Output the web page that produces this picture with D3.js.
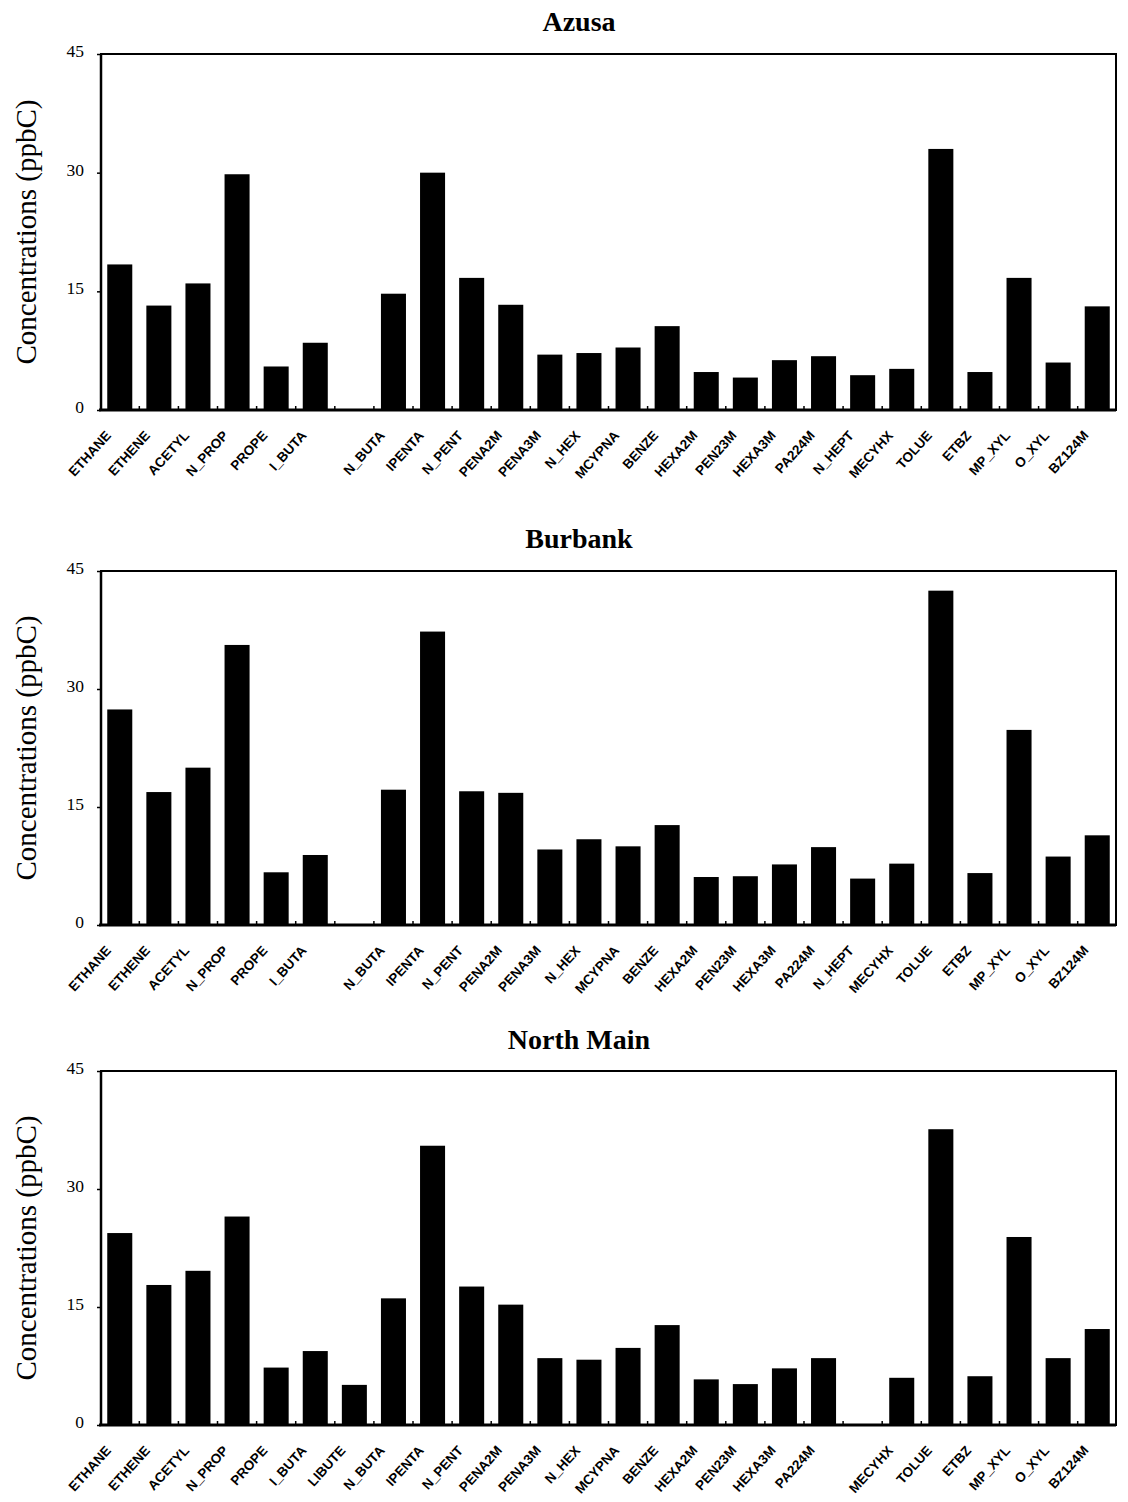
<!DOCTYPE html>
<html>
<head>
<meta charset="utf-8">
<script src="https://cdn.jsdelivr.net/npm/d3@7"></script>
<style>
  html, body { margin: 0; padding: 0; background: #fff; }
  svg { display: block; }
</style>
</head>
<body>
<svg id="chart" width="1128" height="1502"></svg>
<script>
// ---- data ----
const categories = ["ETHANE","ETHENE","ACETYL","N_PROP","PROPE","I_BUTA","LIBUTE","N_BUTA","IPENTA","N_PENT",
  "PENA2M","PENA3M","N_HEX","MCYPNA","BENZE","HEXA2M","PEN23M","HEXA3M","PA224M","N_HEPT",
  "MECYHX","TOLUE","ETBZ","MP_XYL","O_XYL","BZ124M"];
const sites = ["Azusa", "Burbank", "North Main"];
const azusa = [18.4, 13.2, 16.0, 29.8, 5.5, 8.5, null, 14.7, 30.0, 16.7, 13.3, 7.0, 7.2, 7.9, 10.6,
  4.8, 4.1, 6.3, 6.8, 4.4, 5.2, 33.0, 4.8, 16.7, 6.0, 13.1];
const burbank = [27.4, 16.9, 20.0, 35.6, 6.7, 8.9, null, 17.2, 37.3, 17.0, 16.8, 9.6, 10.9, 10.0, 12.7,
  6.1, 6.2, 7.7, 9.9, 5.9, 7.8, 42.5, 6.6, 24.8, 8.7, 11.4];
const northMain = [24.4, 17.8, 19.6, 26.5, 7.3, 9.4, 5.1, 16.1, 35.5, 17.6, 15.3, 8.5, 8.3, 9.8, 12.7,
  5.8, 5.2, 7.2, 8.5, null, 6.0, 37.6, 6.2, 23.9, 8.5, 12.2];
const yTicks = [0, 15, 30, 45];
const yLabel = "Concentrations (ppbC)";

const seriesList = [azusa, burbank, northMain];

// ---- layout ----
const svg = d3.select("#chart");
const left = 101, right = 1116;
const panels = [
  { top: 54, bottom: 410, titleY: 31 },
  { top: 571, bottom: 925, titleY: 548 },
  { top: 1071, bottom: 1425, titleY: 1049 }
];

const x = d3.scaleBand().domain(categories).range([left, right])
  .paddingInner(0.36).paddingOuter(0.16);

panels.forEach((p, i) => {
  const vals = seriesList[i];
  const y = d3.scaleLinear().domain([0, 45]).range([p.bottom, p.top]);
  const g = svg.append("g");

  // title
  g.append("text")
    .attr("x", 579).attr("y", p.titleY)
    .attr("text-anchor", "middle")
    .attr("font-family", "Liberation Serif, Times New Roman, serif")
    .attr("font-weight", "bold")
    .attr("font-size", 28)
    .text(sites[i]);

  // y label
  g.append("text")
    .attr("transform", `translate(36,${(p.top + p.bottom) / 2}) rotate(-90)`)
    .attr("text-anchor", "middle")
    .attr("font-family", "Liberation Serif, Times New Roman, serif")
    .attr("font-size", 29)
    .text(yLabel);

  // bars
  g.selectAll("rect.bar")
    .data(categories.map((c, k) => ({ c, v: vals[k] })).filter(d => d.v != null))
    .enter().append("rect")
    .attr("class", "bar")
    .attr("x", d => x(d.c))
    .attr("width", x.bandwidth())
    .attr("y", d => y(d.v))
    .attr("height", d => y(0) - y(d.v))
    .attr("fill", "#000");

  // y axis
  const yAxis = d3.axisLeft(y).tickValues(yTicks).tickSize(4).tickPadding(13);
  const ya = g.append("g").attr("transform", `translate(${left},0)`).call(yAxis);
  ya.select(".domain").remove();
  ya.selectAll("text")
    .attr("font-family", "Liberation Serif, Times New Roman, serif")
    .attr("font-size", 17.5)
    .attr("dy", "0.15em")
    .attr("fill", "#000");
  ya.selectAll("line").attr("stroke", "#000").attr("stroke-width", 1.5);

  // x axis (labels)
  const xAxis = d3.axisBottom(x).tickSize(0).tickPadding(0)
    .tickFormat(c => vals[categories.indexOf(c)] == null ? "" : c);
  const xa = g.append("g").attr("transform", `translate(0,${p.bottom})`).call(xAxis);
  xa.select(".domain").remove();
  xa.selectAll("text")
    .attr("font-family", "Liberation Sans, Arial, sans-serif")
    .attr("font-weight", "bold")
    .attr("font-size", 13.5)
    .attr("fill", "#000")
    .attr("text-anchor", "end")
    .attr("dy", 0)
    .attr("transform", "translate(-8,26) rotate(-48)");

  // small category-boundary ticks on the baseline
  const bounds = categories.slice(1).map(c => x(c) - x.step() * x.paddingInner() / 2);
  g.selectAll("line.bt").data(bounds).enter().append("line")
    .attr("x1", d => d).attr("x2", d => d)
    .attr("y1", p.bottom).attr("y2", p.bottom - 4)
    .attr("stroke", "#000").attr("stroke-width", 1.5);

  // frame
  g.append("rect")
    .attr("x", left).attr("y", p.top)
    .attr("width", right - left).attr("height", p.bottom - p.top)
    .attr("fill", "none").attr("stroke", "#000").attr("stroke-width", 2);
  g.append("line")
    .attr("x1", left - 2).attr("x2", right)
    .attr("y1", p.bottom).attr("y2", p.bottom)
    .attr("stroke", "#000").attr("stroke-width", 3);
  g.append("line")
    .attr("x1", left).attr("x2", left)
    .attr("y1", p.top).attr("y2", p.bottom)
    .attr("stroke", "#000").attr("stroke-width", 2.5);
});
</script>
</body>
</html>
